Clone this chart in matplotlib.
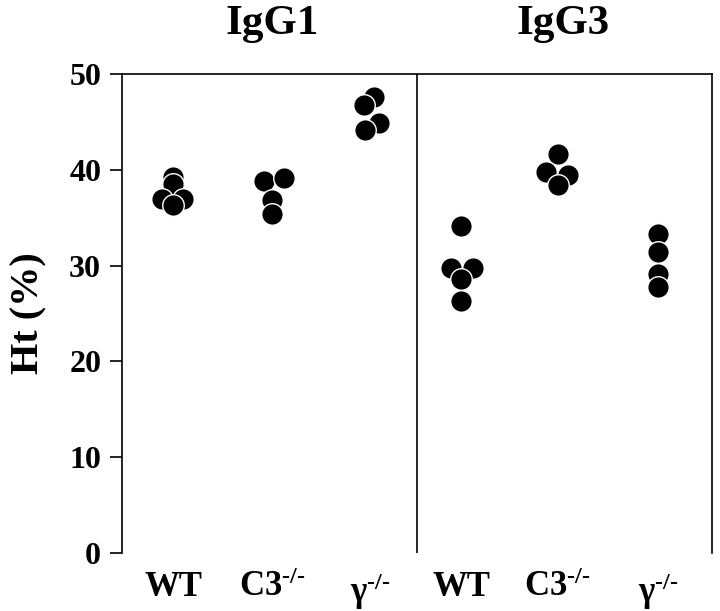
import matplotlib.pyplot as plt

plt.rcParams['font.family'] = 'Liberation Serif'
plt.rcParams['font.weight'] = 'bold'
plt.rcParams['mathtext.fontset'] = 'custom'
plt.rcParams['mathtext.rm'] = 'Liberation Serif:bold'
plt.rcParams['mathtext.it'] = 'Liberation Serif:bold'
plt.rcParams['mathtext.bf'] = 'Liberation Serif:bold'

panels = ['IgG1', 'IgG3']
groups = ['WT', 'C3$^{\u2010/\u2010}$', 'γ$^{\u2010/\u2010}$',
          'WT', 'C3$^{\u2010/\u2010}$', 'γ$^{\u2010/\u2010}$']
group_pos = [0.52, 1.53, 2.53, 3.45, 4.43, 5.45]

# Ht (%) per mouse
ht_values = [
    [39.3, 38.5, 36.9, 36.9, 36.3],   # IgG1 WT
    [38.8, 39.1, 36.8, 35.4],         # IgG1 C3-/-
    [47.6, 46.8, 44.9, 44.2],         # IgG1 gamma-/-
    [34.1, 29.7, 29.7, 28.6, 26.3],   # IgG3 WT
    [41.6, 39.8, 39.5, 38.4],         # IgG3 C3-/-
    [33.3, 31.4, 29.1, 27.8],         # IgG3 gamma-/-
]
# horizontal scatter of the dots within a group
jitter = [
    [0, 0, -0.11, 0.10, 0],
    [-0.09, 0.12, 0, 0],
    [0.03, -0.07, 0.08, -0.06],
    [0, -0.10, 0.12, 0, 0],
    [0, -0.12, 0.11, 0],
    [0, 0, 0, 0],
]

fig = plt.figure(figsize=(7.2, 6.11), dpi=100)
ax = fig.add_axes([122/720, 1 - 553/611, 590/720, 479/611])

for pos, vals, jit in zip(group_pos, ht_values, jitter):
    for v, j in zip(vals, jit):
        ax.plot(pos + j, v, 'o', ms=15.5, color='black', mec='white', mew=1.0)

ax.axvline(3.0, color='black', lw=1.2)
ax.set_xlim(0, 6)
ax.set_ylim(0, 50)
ax.set_yticks([0, 10, 20, 30, 40, 50])
ax.set_xticks(group_pos)
ax.set_xticklabels(groups, fontsize=25)
ax.tick_params(axis='x', length=0, pad=13)
ax.tick_params(axis='y', length=9, width=1.2, labelsize=23, pad=6)
ax.spines['bottom'].set_visible(False)
for s in ['top', 'left', 'right']:
    ax.spines[s].set_linewidth(1.2)
ax.set_ylabel('Ht (%)', fontsize=29, fontweight='bold', labelpad=16)

fig.text(272/720, 1 - 24/611, panels[0], ha='center', va='center', fontsize=31)
fig.text(563/720, 1 - 24/611, panels[1], ha='center', va='center', fontsize=31)

plt.savefig('out.png', dpi=100)
